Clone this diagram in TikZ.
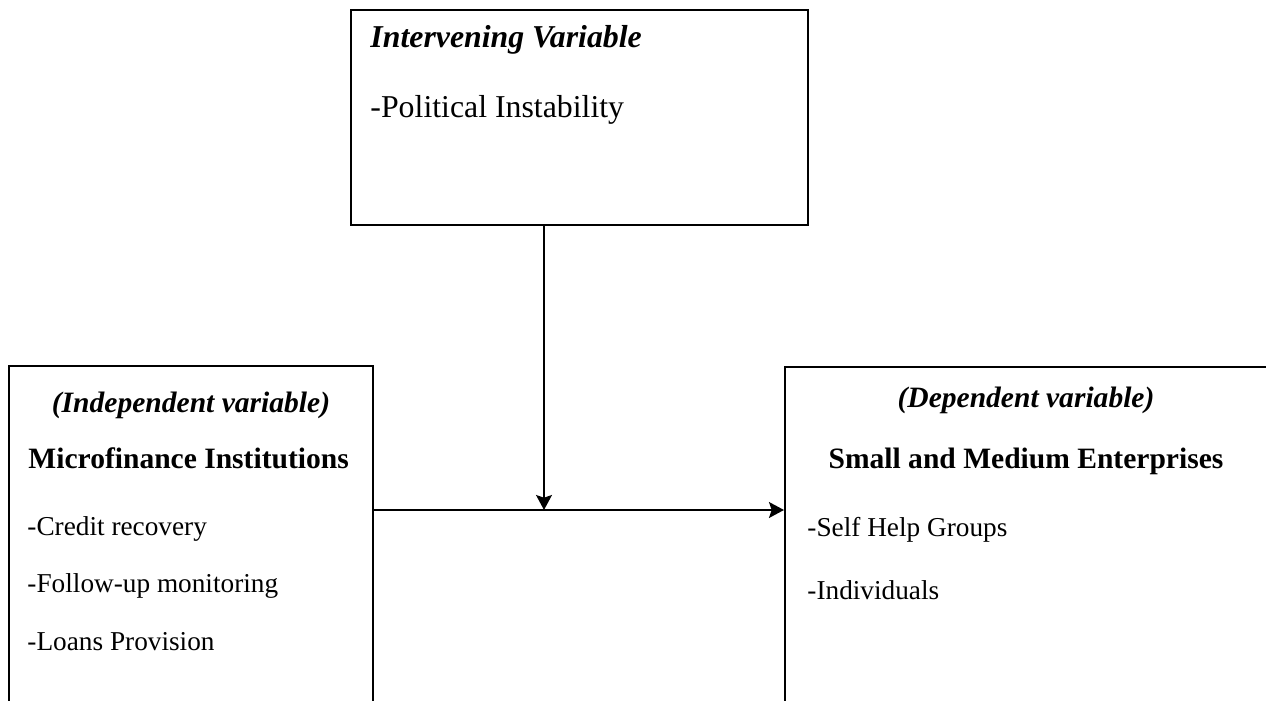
\documentclass[tikz,border=0pt]{standalone}
\usepackage{fontspec}
\setmainfont{Liberation Serif}
\usetikzlibrary{arrows.meta,positioning,fit}

\begin{document}
\begin{tikzpicture}[
  x=0.44pt,y=-0.44pt,
  box/.style={draw,line width=0.9pt,inner sep=0pt},
  toptitle/.style={font=\fontsize{14}{16}\selectfont\bfseries\itshape,inner sep=0pt,anchor=base west},
  topitem/.style={font=\fontsize{14}{16}\selectfont,inner sep=0pt,anchor=base west},
  vartitle/.style={font=\fontsize{13}{15}\selectfont\bfseries\itshape,inner sep=0pt,anchor=base},
  varname/.style={font=\fontsize{13}{15}\selectfont\bfseries,inner sep=0pt},
  item/.style={font=\fontsize{12}{14}\selectfont,inner sep=0pt,anchor=base west},
  arr/.style={-{Stealth[length=6.6pt,width=7pt,inset=1.2pt]},line width=0.8pt}
]
  \useasboundingbox (0,0) rectangle (1266,700);

  % intervening variable
  \node[box,fit={(351,10)(808,225)}] (inter) {};
  \node[toptitle] (intertitle) at (370,48) {Intervening Variable};
  \node[topitem] (political) at (370,117) {-Political Instability};

  % independent variable
  \node[box,fit={(9,366)(373,703)}] (mfi) {};
  \node[vartitle] (indep) at (191,412) {(Independent variable)};
  \node[varname,anchor=base west] (mfiname) at (28,468) {Microfinance Institutions};
  \node[item] (credit) at (27,535) {-Credit recovery};
  \node[item] (follow) at (27,592) {-Follow-up monitoring};
  \node[item] (loans) at (27,650) {-Loans Provision};

  % dependent variable
  \node[box,fit={(785,367)(1268,703)}] (sme) {};
  \node[vartitle] (dep) at (1026,407) {(Dependent variable)};
  \node[varname,anchor=base] (smename) at (1026,468) {Small and Medium Enterprises};
  \node[item] (shg) at (807,536) {-Self Help Groups};
  \node[item] (indiv) at (807,599) {-Individuals};

  % connectors
  \coordinate (join) at (544,510);
  \draw[arr] (mfi.east |- join) -- (sme.west |- join);
  \draw[arr] (inter.south -| join) -- (join);
\end{tikzpicture}
\end{document}
